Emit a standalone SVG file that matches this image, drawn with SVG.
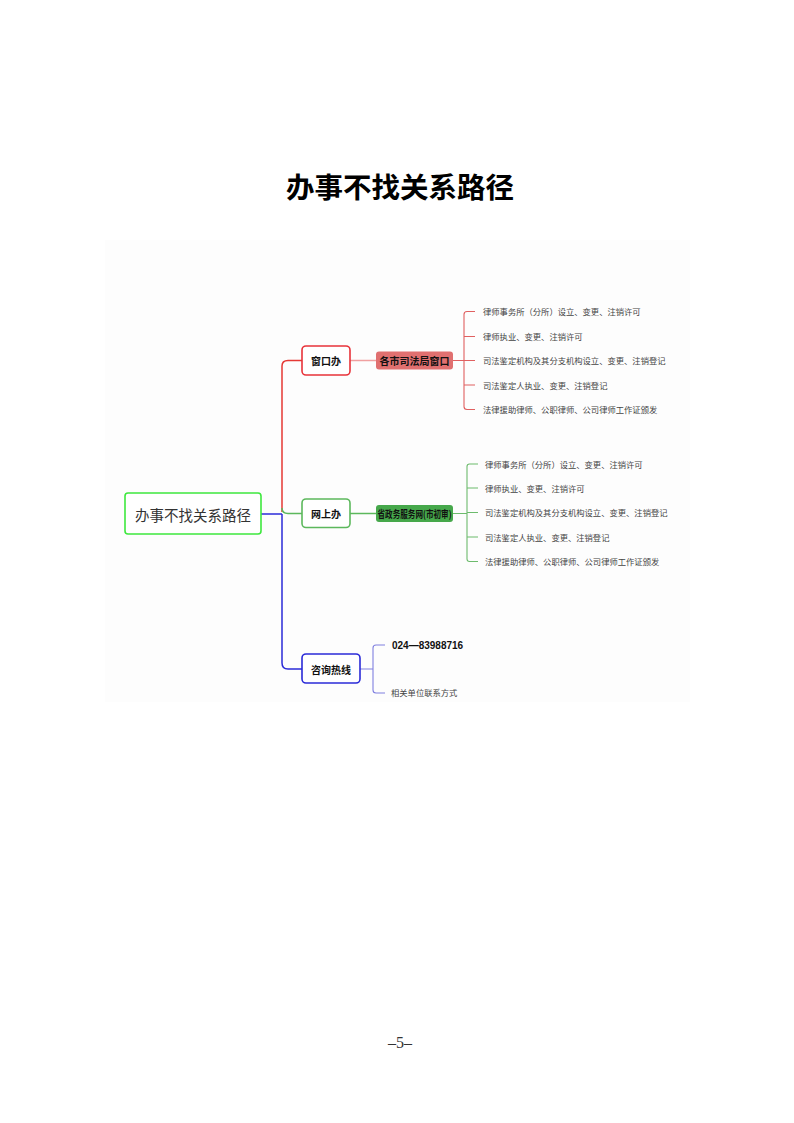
<svg xmlns="http://www.w3.org/2000/svg" width="794" height="1123" viewBox="0 0 794 1123">
<style>
.cjk{font-family:"Noto Sans CJK SC","Liberation Sans",sans-serif;}
.leaf{font-family:"Noto Sans CJK SC","Liberation Sans",sans-serif;font-size:8.3px;fill:#444;dominant-baseline:central;}
.lbl{font-family:"Noto Sans CJK SC","Liberation Sans",sans-serif;font-size:10px;font-weight:bold;fill:#111;text-anchor:middle;dominant-baseline:central;}
.box{fill:#fff;stroke-width:1.6;}
.ln{fill:none;stroke-width:1.5;}
.br{fill:none;stroke-width:1.1;}
</style>
<rect width="794" height="1123" fill="#fff"/>
<rect x="105" y="240" width="585" height="462" fill="#fdfdfd"/>
<text x="400" y="198" class="cjk" font-size="28.5" font-weight="bold" fill="#000" text-anchor="middle">办事不找关系路径</text>

<g id="connectors">
  <path class="ln" stroke="#2b2bd8" d="M261,514 H282"/>
  <path class="ln" stroke="#e53935" d="M282,512 V366 Q282,360.5 288,360.5 H302"/>
  <path class="ln" stroke="#5cb85c" d="M282,508 Q282,513.5 288,513.5 H302"/>
  <path class="ln" stroke="#2b2bd8" d="M282,514 V663 Q282,669 288,669 H302"/>
  <path class="ln" stroke="#f0a0a0" d="M350,360.5 H376"/>
  <path class="ln" stroke="#5cb85c" d="M350,513.5 H376"/>
  <path class="br" stroke="#e06060" d="M453,360.5 H464 M475,311.5 H467 Q464,311.5 464,314.5 V406.5 Q464,409.5 467,409.5 H475 M464,336.5 H475 M464,360.5 H475 M464,385 H475"/>
  <path class="br" stroke="#6dbb6d" d="M453,513.5 H467 M478,464 H469.5 Q467,464 467,466.5 V559 Q467,561.5 469.5,561.5 H478 M467,488 H478 M467,512.5 H478 M467,537 H478"/>
  <path class="br" stroke="#8080e0" d="M360,669 H373 M385,645 H376 Q373,645 373,648 V690 Q373,693 376,693 H385"/>
</g>

<g id="root">
  <rect class="box" x="125" y="493" width="136" height="41" rx="3" stroke="#3ee83e"/>
  <text x="193" y="514" class="cjk" font-size="14.5" fill="#333" text-anchor="middle" dominant-baseline="central">办事不找关系路径</text>
</g>
<g id="chuangkouban">
  <rect class="box" x="302" y="346" width="48" height="29" rx="4" stroke="#e8333a"/>
  <text x="326" y="360.5" class="lbl">窗口办</text>
</g>
<g id="sifaju">
  <rect x="376" y="351.5" width="77" height="18" rx="3" fill="#e07070"/>
  <text x="414.5" y="360.5" class="lbl" font-size="9.5">各市司法局窗口</text>
</g>
<g id="wangshangban">
  <rect class="box" x="302" y="499" width="48" height="28.5" rx="4" stroke="#5cb85c"/>
  <text x="326" y="513.5" class="lbl">网上办</text>
</g>
<g id="zhengwuwang">
  <rect x="376" y="505" width="77" height="17" rx="3" fill="#46a84b"/>
  <text x="414.5" y="513.5" class="lbl" font-size="9" font-weight="normal" textLength="74" lengthAdjust="spacingAndGlyphs">省政务服务网(市初审)</text>
</g>
<g id="zixunrexian">
  <rect class="box" x="302" y="654" width="58" height="29" rx="4" stroke="#2b2bd8"/>
  <text x="331" y="669" class="lbl">咨询热线</text>
</g>

<g id="window-items">
  <text x="483" y="311" class="leaf">律师事务所（分所）设立、变更、注销许可</text>
  <text x="483" y="336" class="leaf">律师执业、变更、注销许可</text>
  <text x="483" y="360" class="leaf">司法鉴定机构及其分支机构设立、变更、注销登记</text>
  <text x="483" y="384.5" class="leaf">司法鉴定人执业、变更、注销登记</text>
  <text x="483" y="409" class="leaf">法律援助律师、公职律师、公司律师工作证颁发</text>
</g>
<g id="online-items">
  <text x="485" y="463.5" class="leaf">律师事务所（分所）设立、变更、注销许可</text>
  <text x="485" y="487.5" class="leaf">律师执业、变更、注销许可</text>
  <text x="485" y="512" class="leaf">司法鉴定机构及其分支机构设立、变更、注销登记</text>
  <text x="485" y="536.5" class="leaf">司法鉴定人执业、变更、注销登记</text>
  <text x="485" y="561" class="leaf">法律援助律师、公职律师、公司律师工作证颁发</text>
</g>
<g id="hotline-items">
  <text x="392" y="645" font-family="'Liberation Sans','Noto Sans CJK SC',sans-serif" font-size="10" font-weight="bold" fill="#111" dominant-baseline="central">024—83988716</text>
  <text x="391" y="692" class="leaf">相关单位联系方式</text>
</g>

<text x="400" y="1048" font-family="'Liberation Serif',serif" font-size="16" fill="#333" text-anchor="middle">–5–</text>
</svg>
